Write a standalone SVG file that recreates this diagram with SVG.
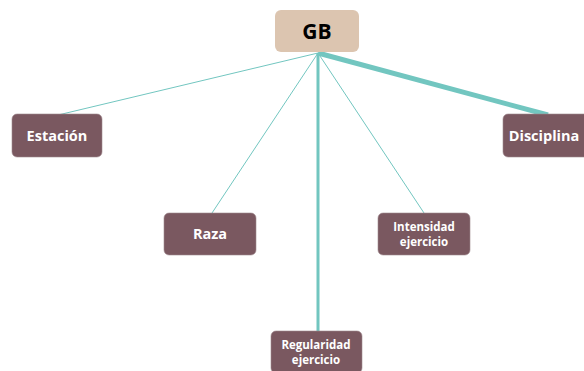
<svg xmlns="http://www.w3.org/2000/svg" width="584" height="371" viewBox="0 0 584 371">
<style>
.n rect{fill:#7a5860;stroke:#a08a8e;stroke-width:0.6}
.n text{fill:#ffffff;font-family:"Open Sans","Noto Sans",sans-serif;font-weight:bold;text-anchor:middle}
.c line{stroke:#72c6c0;stroke-linecap:butt}
</style>
<rect width="584" height="371" fill="#ffffff"/>
<g id="connectors" class="c">
<line x1="318" y1="53" x2="58" y2="115" stroke-width="1"/>
<line x1="318" y1="53" x2="212" y2="213" stroke-width="1"/>
<line x1="318" y1="53" x2="424" y2="213" stroke-width="1"/>
<line x1="318" y1="53" x2="318" y2="331" stroke-width="3"/>
<line x1="318" y1="53" x2="548" y2="115" stroke-width="5"/>
</g>
<g id="GB">
<rect x="275" y="10" width="84" height="42" rx="6" fill="#dcc5b0"/>
<text x="317" y="39" font-family="Open Sans,Noto Sans,sans-serif" font-weight="bold" font-size="21" text-anchor="middle" fill="#000">GB</text>
</g>
<g id="estacion" class="n">
<rect x="12" y="114" width="90" height="43" rx="5"/>
<text x="57" y="141" font-size="14.5">Estación</text>
</g>
<g id="disciplina" class="n">
<rect x="503" y="114" width="90" height="43" rx="5"/>
<text x="544" y="141" font-size="14.5">Disciplina</text>
</g>
<g id="raza" class="n">
<rect x="164" y="213" width="92" height="42" rx="5"/>
<text x="210" y="239" font-size="14.5">Raza</text>
</g>
<g id="intensidad" class="n">
<rect x="378" y="213" width="92" height="42" rx="5"/>
<text x="424" y="230.5" font-size="11.5">Intensidad</text>
<text x="424" y="246" font-size="11.5">ejercicio</text>
</g>
<g id="regularidad" class="n">
<rect x="271" y="331" width="91" height="42" rx="5"/>
<text x="316" y="348.5" font-size="11.5">Regularidad</text>
<text x="316" y="364" font-size="11.5">ejercicio</text>
</g>
</svg>
